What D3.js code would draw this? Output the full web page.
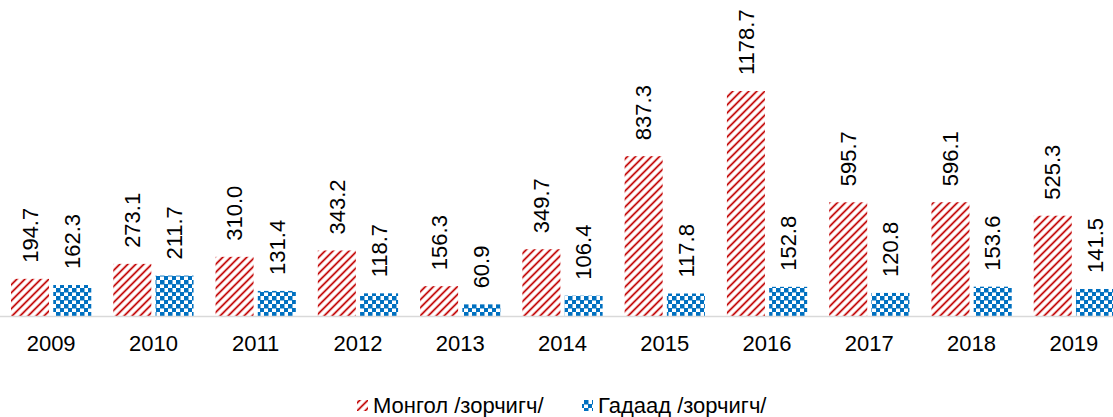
<!DOCTYPE html>
<html><head><meta charset="utf-8">
<script src="https://cdn.jsdelivr.net/npm/d3@7"></script>
<style>body{margin:0;background:#fff}svg{display:block;font-family:Arial,"Liberation Sans",sans-serif}</style>
</head><body>
<svg id="c" width="1113" height="417"></svg>
<script>
const years = ["2009","2010","2011","2012","2013","2014","2015","2016","2017","2018","2019"];
const mongol = [194.7,273.1,310.0,343.2,156.3,349.7,837.3,1178.7,595.7,596.1,525.3];
const gadaad = [162.3,211.7,131.4,118.7,60.9,106.4,117.8,152.8,120.8,153.6,141.5];
const seriesNames = ["Монгол /зорчигч/","Гадаад /зорчигч/"];

const svg = d3.select("#c");
const defs = svg.append("defs");
const pr = defs.append("pattern").attr("id","pRed").attr("patternUnits","userSpaceOnUse")
  .attr("width",8).attr("height",8);
pr.append("rect").attr("width",8).attr("height",8).attr("fill","#fff");
pr.append("path").attr("d","M-2,2 L2,-2 M0,8 L8,0 M6,10 L10,6").attr("stroke","#f2b8b8").attr("stroke-width",3);
pr.append("path").attr("d","M-2,2 L2,-2 M0,8 L8,0 M6,10 L10,6").attr("stroke","#C00000").attr("stroke-width",1.3);
const pb = defs.append("pattern").attr("id","pBlue").attr("patternUnits","userSpaceOnUse")
  .attr("width",8).attr("height",8);
pb.append("rect").attr("width",8).attr("height",8).attr("fill","#fff");
pb.append("rect").attr("x",0).attr("y",0).attr("width",4.5).attr("height",4.5).attr("fill","#0070C0");
pb.append("rect").attr("x",4).attr("y",4).attr("width",4).attr("height",4).attr("fill","#0070C0");

const baseY = 316;
const x = d3.scaleBand().domain(years).range([0,1125]).paddingInner(0).paddingOuter(0);
const y = d3.scaleLinear().domain([0,1178.7]).range([baseY, 91]);
const sub = d3.scaleBand().domain([0,1]).range([11, x.bandwidth()-11]).paddingInner(8/80);

const data = years.map((yr,i)=>({yr, v:[mongol[i], gadaad[i]]}));
const fills = ["url(#pRed)","url(#pBlue)"];

const g = svg.append("g");
data.forEach(d=>{
  d.v.forEach((val,k)=>{
    const bx = x(d.yr)+sub(k);
    g.append("rect").attr("x",bx).attr("y",y(val)).attr("width",sub.bandwidth())
      .attr("height",baseY-y(val)).attr("fill",fills[k]);
    g.append("text").attr("transform",`translate(${bx+sub.bandwidth()/2},${y(val)-16}) rotate(-90)`)
      .attr("dy","0.35em").attr("font-size",22).attr("fill","#000").text(val.toFixed(1));
  });
});

svg.append("line").attr("x1",0).attr("x2",1113).attr("y1",baseY+0.5).attr("y2",baseY+0.5)
  .attr("stroke","#d9d9d9").attr("stroke-width",1.5);

const xa = svg.append("g").attr("transform",`translate(0,${baseY})`)
  .call(d3.axisBottom(x).tickSize(0).tickPadding(19));
xa.select(".domain").remove();
xa.selectAll("text").attr("font-size",22).attr("fill","#000").attr("font-family","Arial,'Liberation Sans',sans-serif");

const legX = [357, 582];
seriesNames.forEach((n,k)=>{
  svg.append("rect").attr("x",legX[k]).attr("y",400).attr("width",11).attr("height",11).attr("fill",fills[k]);
  svg.append("text").attr("x",legX[k]+16).attr("y",413).attr("font-size",22).attr("fill","#000").text(n);
});
</script>
</body></html>
